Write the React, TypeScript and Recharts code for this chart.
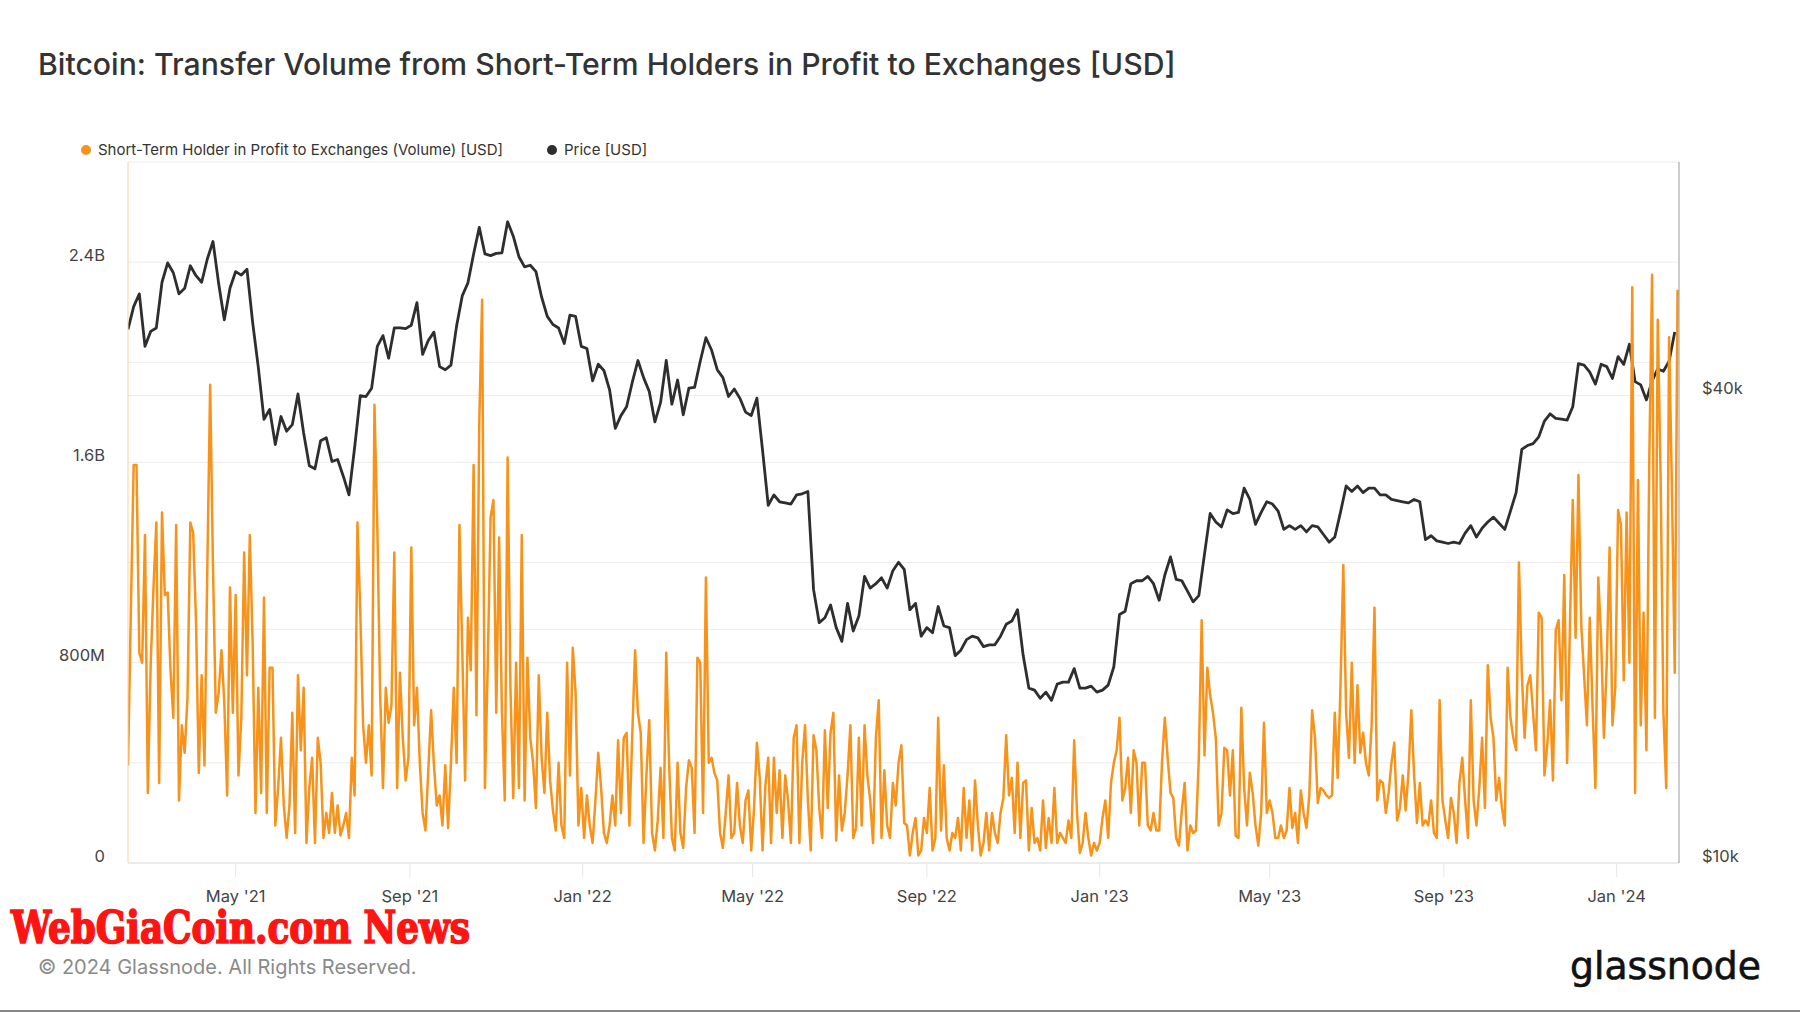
import { LineChart, Line, XAxis, YAxis, CartesianGrid } from 'recharts';

const START = Date.UTC(2021, 1, 14);
const DAY = 86400000;
const END = START + 1095 * DAY;

// transfer volume, one value every 2 days from 14 Feb 2021, billions USD
const volumeB = [
  0.39, 1.0, 1.59, 1.59, 0.84, 0.80, 1.31, 0.28, 0.79, 1.10,
  1.36, 0.32, 1.40, 1.07, 1.08, 0.77, 0.58, 1.35, 0.25, 0.55,
  0.44, 0.66, 1.36, 1.32, 0.97, 0.36, 0.75, 0.39, 1.18, 1.91,
  1.18, 0.60, 0.68, 0.85, 0.64, 0.27, 1.10, 0.60, 1.07, 0.35,
  0.58, 1.24, 0.75, 1.31, 0.88, 0.20, 0.70, 0.28, 1.06, 0.20,
  0.78, 0.78, 0.15, 0.30, 0.50, 0.23, 0.10, 0.23, 0.60, 0.12,
  0.75, 0.45, 0.70, 0.08, 0.30, 0.42, 0.08, 0.50, 0.40, 0.10,
  0.20, 0.12, 0.28, 0.12, 0.23, 0.11, 0.15, 0.20, 0.10, 0.42,
  0.27, 1.36, 1.00, 0.55, 0.40, 0.55, 0.35, 1.83, 1.35, 0.68,
  0.30, 0.70, 0.56, 0.63, 1.24, 0.30, 0.76, 0.50, 0.33, 0.42,
  1.26, 0.55, 0.70, 0.40, 0.20, 0.13, 0.37, 0.61, 0.39, 0.23,
  0.27, 0.15, 0.39, 0.14, 0.40, 0.70, 0.40, 1.35, 0.85, 0.33,
  0.98, 0.77, 1.59, 0.59, 1.76, 2.25, 0.30, 0.80, 1.38, 1.45,
  0.60, 1.30, 0.60, 0.25, 1.62, 0.70, 0.26, 0.80, 0.30, 1.31,
  0.25, 0.82, 0.50, 0.40, 0.22, 0.75, 0.42, 0.28, 0.60, 0.33,
  0.21, 0.13, 0.40, 0.15, 0.10, 0.80, 0.35, 0.86, 0.68, 0.15,
  0.30, 0.10, 0.27, 0.15, 0.08, 0.25, 0.44, 0.30, 0.12, 0.08,
  0.15, 0.27, 0.15, 0.49, 0.20, 0.50, 0.52, 0.15, 0.51, 0.85,
  0.60, 0.52, 0.08, 0.35, 0.57, 0.12, 0.05, 0.17, 0.38, 0.10,
  0.84, 0.40, 0.10, 0.05, 0.40, 0.12, 0.06, 0.30, 0.41, 0.38,
  0.12, 0.82, 0.80, 0.20, 1.14, 0.40, 0.42, 0.36, 0.33, 0.12,
  0.06, 0.20, 0.35, 0.10, 0.12, 0.32, 0.15, 0.08, 0.25, 0.29,
  0.05, 0.22, 0.48, 0.34, 0.05, 0.31, 0.42, 0.08, 0.42, 0.20,
  0.37, 0.10, 0.35, 0.25, 0.08, 0.50, 0.55, 0.08, 0.40, 0.55,
  0.25, 0.05, 0.51, 0.45, 0.22, 0.10, 0.53, 0.22, 0.52, 0.60,
  0.09, 0.35, 0.13, 0.20, 0.35, 0.55, 0.10, 0.14, 0.50, 0.15,
  0.55, 0.35, 0.25, 0.08, 0.50, 0.65, 0.10, 0.37, 0.15, 0.10,
  0.32, 0.23, 0.40, 0.47, 0.16, 0.15, 0.03, 0.12, 0.18, 0.03,
  0.05, 0.18, 0.12, 0.30, 0.05, 0.10, 0.58, 0.13, 0.39, 0.10,
  0.05, 0.12, 0.10, 0.18, 0.05, 0.30, 0.10, 0.25, 0.05, 0.33,
  0.15, 0.03, 0.08, 0.20, 0.05, 0.20, 0.12, 0.08, 0.20, 0.26,
  0.51, 0.27, 0.34, 0.12, 0.40, 0.10, 0.32, 0.33, 0.05, 0.22,
  0.08, 0.10, 0.05, 0.25, 0.06, 0.18, 0.08, 0.30, 0.08, 0.12,
  0.10, 0.08, 0.17, 0.10, 0.49, 0.20, 0.04, 0.08, 0.20, 0.10,
  0.03, 0.08, 0.05, 0.08, 0.18, 0.25, 0.10, 0.32, 0.40, 0.45,
  0.58, 0.25, 0.30, 0.42, 0.20, 0.45, 0.40, 0.15, 0.40, 0.40,
  0.15, 0.13, 0.20, 0.13, 0.13, 0.40, 0.58, 0.42, 0.28, 0.26,
  0.10, 0.07, 0.21, 0.32, 0.05, 0.15, 0.12, 0.13, 0.42, 0.97,
  0.43, 0.78, 0.67, 0.60, 0.50, 0.15, 0.20, 0.46, 0.45, 0.27,
  0.45, 0.11, 0.10, 0.62, 0.30, 0.15, 0.36, 0.28, 0.15, 0.07,
  0.20, 0.56, 0.20, 0.25, 0.20, 0.10, 0.10, 0.15, 0.10, 0.13,
  0.30, 0.14, 0.20, 0.08, 0.29, 0.20, 0.14, 0.27, 0.61, 0.50,
  0.24, 0.30, 0.29, 0.27, 0.26, 0.27, 0.60, 0.34, 0.70, 1.19,
  0.60, 0.42, 0.80, 0.40, 0.71, 0.44, 0.52, 0.40, 0.35, 0.55,
  1.02, 0.25, 0.33, 0.32, 0.20, 0.28, 0.40, 0.48, 0.17, 0.22,
  0.35, 0.21, 0.36, 0.61, 0.35, 0.16, 0.32, 0.15, 0.17, 0.15,
  0.25, 0.12, 0.10, 0.65, 0.25, 0.17, 0.10, 0.26, 0.20, 0.08,
  0.32, 0.42, 0.25, 0.10, 0.65, 0.25, 0.15, 0.30, 0.50, 0.22,
  0.79, 0.58, 0.50, 0.25, 0.34, 0.22, 0.15, 0.78, 0.58, 0.50,
  0.45, 1.20, 0.76, 0.50, 0.71, 0.75, 0.60, 0.45, 1.00, 0.98,
  0.35, 0.47, 0.65, 0.33, 0.93, 0.97, 0.65, 1.15, 0.40, 0.95,
  1.45, 0.90, 1.55, 0.95, 0.75, 0.55, 0.98, 0.62, 0.30, 1.14,
  0.90, 0.50, 0.80, 1.26, 0.55, 0.70, 1.41, 1.35, 0.73, 1.40,
  0.80, 2.30, 0.28, 1.53, 0.55, 1.00, 0.45, 1.60, 2.35, 0.58,
  2.17, 1.55, 0.60, 0.30, 2.10, 1.50, 0.76, 2.29,
];

// BTC price, one value every 4 days from 14 Feb 2021, thousands USD
const priceK = [
  48.7, 52.1, 54.1, 46.3, 48.4, 48.9, 56.0, 59.3, 57.6, 54.1,
  55.0, 58.8, 57.1, 56.0, 60.0, 63.2, 55.8, 50.1, 55.0, 57.8,
  57.2, 58.2, 49.7, 43.5, 37.3, 38.4, 34.6, 37.6, 36.0, 36.7,
  40.2, 35.8, 32.5, 32.2, 35.0, 35.3, 32.9, 33.1, 31.5, 29.8,
  34.3, 40.0, 39.9, 40.9, 46.3, 47.8, 44.7, 48.9, 48.9, 48.8,
  49.3, 52.7, 45.2, 47.1, 48.3, 43.6, 43.2, 43.8, 49.2, 53.8,
  55.9, 60.9, 65.9, 60.9, 60.6, 61.0, 61.1, 67.0, 64.2, 60.4,
  58.6, 58.9, 57.8, 53.6, 50.6, 49.4, 48.9, 46.7, 50.8, 50.6,
  46.3, 46.0, 41.8, 43.9, 43.1, 40.7, 36.3, 37.7, 38.7, 41.6,
  44.4, 42.2, 40.5, 37.0, 39.2, 44.4, 39.0, 41.9, 37.8, 40.9,
  41.0, 44.3, 47.5, 45.8, 43.2, 42.2, 39.9, 40.8, 39.7, 38.1,
  37.7, 39.7, 34.0, 28.9, 29.8, 29.2, 29.1, 29.0, 29.8, 29.9,
  30.1, 22.5, 20.4, 20.7, 21.5, 20.1, 19.3, 21.6, 19.9, 20.8,
  23.4, 22.6, 22.9, 23.3, 22.6, 23.8, 24.4, 23.9, 21.2, 21.6,
  19.6, 20.1, 19.8, 21.4, 20.2, 20.1, 18.5, 18.8, 19.4, 19.6,
  19.5, 19.0, 19.1, 19.1, 19.6, 20.3, 20.5, 21.2, 18.5, 16.8,
  16.7, 16.3, 16.6, 16.2, 17.0, 17.1, 17.1, 17.8, 16.8, 16.8,
  16.9, 16.6, 16.7, 16.95, 17.9, 20.9, 21.1, 22.9, 23.1, 23.1,
  23.4, 22.9, 21.8, 23.5, 24.8, 23.2, 23.1, 22.4, 21.7, 22.1,
  25.0, 28.2, 27.5, 27.1, 28.5, 28.2, 28.3, 30.4, 29.4, 27.3,
  28.3, 29.2, 29.0, 28.4, 26.9, 27.2, 26.9, 27.2, 26.7, 27.2,
  27.1, 26.5, 25.9, 26.3, 28.3, 30.6, 30.1, 30.6, 30.0, 30.4,
  30.4, 29.8, 29.8, 29.4, 29.3, 29.2, 29.1, 29.4, 29.2, 26.1,
  26.4, 26.0, 25.9, 25.8, 25.9, 25.8, 26.6, 27.2, 26.3, 27.0,
  27.5, 27.9, 27.4, 26.9, 28.4, 30.0, 34.1, 34.5, 34.7, 35.4,
  37.1, 37.9, 37.4, 37.3, 37.2, 38.7, 44.0, 43.8, 42.9, 41.4,
  43.9, 43.6, 42.1, 44.9, 43.9, 46.6, 41.7, 41.3, 39.5, 41.8,
  43.3, 43.0, 44.3, 48.3,
];

const dateTicks = [
  Date.UTC(2021, 4, 1), Date.UTC(2021, 8, 1), Date.UTC(2022, 0, 1),
  Date.UTC(2022, 4, 1), Date.UTC(2022, 8, 1), Date.UTC(2023, 0, 1),
  Date.UTC(2023, 4, 1), Date.UTC(2023, 8, 1), Date.UTC(2024, 0, 1),
];
const volumeTicks = [0, 400e6, 800e6, 1200e6, 1600e6, 2000e6, 2400e6, 2800e6];
const priceTicks = [10000, 40000];
const priceGrid = [20000, 40000];

const MONTHS = ['Jan', 'Feb', 'Mar', 'Apr', 'May', 'Jun', 'Jul', 'Aug', 'Sep', 'Oct', 'Nov', 'Dec'];

const volumeData = volumeB.map((v, i) => ({ t: START + i * 2 * DAY, v: v * 1e9 }));
const priceData = priceK.map((p, i) => ({ t: START + i * 4 * DAY, p: p * 1000 }));

const ORANGE = '#f7931a';
const DARK = '#2e2e2e';
const FONT = 'Inter, "Noto Sans", sans-serif';

function fmtDate(t: number) {
  const d = new Date(t);
  return `${MONTHS[d.getUTCMonth()]} '${String(d.getUTCFullYear()).slice(2)}`;
}

function fmtVolume(v: number) {
  if (v === 0) return '0';
  if (v >= 1e9) return `${v / 1e9}B`;
  return `${v / 1e6}M`;
}

function VolumeTick({ x, y, payload }: any) {
  if (payload.value % 800e6 !== 0) return null;
  return (
    <text x={x} y={y} dy={-6} textAnchor="end" dominantBaseline="middle" fill="#444" fontSize={16.5} fontFamily={FONT}>
      {fmtVolume(payload.value)}
    </text>
  );
}

function PriceTick({ x, y, payload }: any) {
  return (
    <text x={x} y={y} dy={-6} textAnchor="start" dominantBaseline="middle" fill="#444" fontSize={16.5} fontFamily={FONT}>
      {`$${payload.value / 1000}k`}
    </text>
  );
}

function LegendItem({ color, label, gap }: { color: string; label: string; gap: number }) {
  return (
    <span style={{ display: 'inline-flex', alignItems: 'center', marginRight: gap }}>
      <span style={{ width: 10, height: 10, borderRadius: 5, background: color, marginRight: 7 }} />
      {label}
    </span>
  );
}

export default function App() {
  return (
    <div style={{ position: 'relative', width: 1800, height: 1013, background: '#fff', fontFamily: FONT, overflow: 'hidden' }}>
      <style>{'body{margin:0}'}</style>
      <div style={{ position: 'absolute', left: 38, top: 46, fontSize: 30.2, fontWeight: 500, color: '#333', whiteSpace: 'nowrap' }}>
        Bitcoin: Transfer Volume from Short-Term Holders in Profit to Exchanges [USD]
      </div>
      <div style={{ position: 'absolute', left: 81, top: 140, fontSize: 15, color: '#333', display: 'flex', whiteSpace: 'nowrap' }}>
        <LegendItem color={ORANGE} label="Short-Term Holder in Profit to Exchanges (Volume) [USD]" gap={44} />
        <LegendItem color={DARK} label="Price [USD]" gap={0} />
      </div>

      <div style={{ position: 'absolute', left: 0, top: 0 }}>
        <LineChart width={1800} height={1013} margin={{ top: 162, right: 61, bottom: 110, left: 68 }}>
          <CartesianGrid yAxisId="left" vertical={false} stroke="#ececec" />
          <CartesianGrid yAxisId="right" vertical={false} horizontalValues={priceGrid} stroke="#ececec" />
          <XAxis
            dataKey="t"
            type="number"
            domain={[START, END]}
            ticks={dateTicks}
            tickFormatter={fmtDate}
            allowDataOverflow
            height={40}
            tickSize={14}
            tickMargin={13}
            tickLine={{ stroke: '#e6e6e6' }}
            axisLine={{ stroke: '#e2e2e2' }}
            tick={{ fill: '#444', fontSize: 16.5, fontFamily: FONT }}
          />
          <YAxis
            yAxisId="left"
            orientation="left"
            width={60}
            domain={[0, 2800e6]}
            ticks={volumeTicks}
            allowDataOverflow
            tickLine={false}
            tickSize={0}
            tickMargin={23}
            axisLine={{ stroke: '#fbd3a4' }}
            tick={<VolumeTick />}
          />
          <YAxis
            yAxisId="right"
            orientation="right"
            width={60}
            scale="log"
            domain={[10000, 80000]}
            ticks={priceTicks}
            allowDataOverflow
            tickLine={false}
            tickSize={0}
            tickMargin={23}
            axisLine={{ stroke: '#9a9a9a' }}
            tick={<PriceTick />}
          />
          <Line
            yAxisId="right"
            data={priceData}
            dataKey="p"
            type="linear"
            stroke={DARK}
            strokeWidth={2.8}
            strokeLinejoin="round"
            dot={false}
            isAnimationActive={false}
          />
          <Line
            yAxisId="left"
            data={volumeData}
            dataKey="v"
            type="linear"
            stroke={ORANGE}
            strokeWidth={2.5}
            strokeLinejoin="round"
            dot={false}
            isAnimationActive={false}
          />
        </LineChart>
      </div>

      <svg style={{ position: 'absolute', left: 0, top: 898, overflow: 'visible' }} width={600} height={62}>
        <text
          x={11}
          y={45}
          fill="#ff1414"
          stroke="#ff1414"
          strokeWidth={1.6}
          fontFamily='"DejaVu Serif", serif'
          fontWeight="bold"
          fontSize={44}
          style={{ fontStretch: 'condensed' }}
          textLength={459}
          lengthAdjust="spacingAndGlyphs"
        >
          WebGiaCoin.com News
        </text>
      </svg>
      <div style={{ position: 'absolute', left: 38, top: 955, fontSize: 20, color: '#8a8a8a', whiteSpace: 'nowrap' }}>
        © 2024 Glassnode. All Rights Reserved.
      </div>
      <svg style={{ position: 'absolute', left: 1560, top: 936 }} width={240} height={64}>
        <text x={10} y={43} fill="#111" stroke="#111" strokeWidth={0.6} fontFamily='"DejaVu Sans", sans-serif' fontSize={37} textLength={191} lengthAdjust="spacingAndGlyphs">
          glassnode
        </text>
      </svg>
      <div style={{ position: 'absolute', left: 0, top: 1010, width: 1800, height: 2, background: '#888' }} />
    </div>
  );
}
